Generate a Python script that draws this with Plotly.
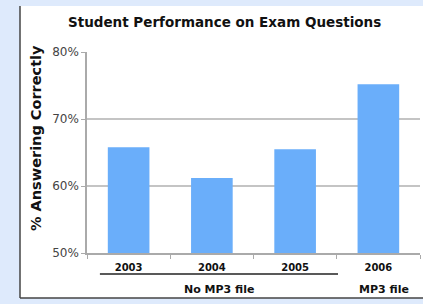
import plotly.graph_objects as go

years = ["2003", "2004", "2005", "2006"]
pct_correct = [65.8, 61.2, 65.5, 75.2]
group_labels = ["No MP3 file", "MP3 file"]
group_centers = [1.09, 3.07]
y_ticks = [50, 60, 70, 80]
y_tick_text = ["50%", "60%", "70%", "80%"]

W, H = 423, 304
L, R, T, B = 87, 3, 52, 51
PW, PH = W - L - R, H - T - B

def px(x):
    return (x - L) / PW

def py(y):
    return (H - B - y) / PH

FONT = "DejaVu Sans"

fig = go.Figure(go.Bar(
    x=years, y=pct_correct, marker=dict(color="#6aaefa", line=dict(width=0)),
    width=0.5,
))

shapes = [
    dict(type="rect", xref="paper", yref="paper", x0=px(20), x1=px(430), y0=py(298), y1=py(6),
         fillcolor="white", line=dict(width=0), layer="below"),
    dict(type="line", xref="paper", yref="paper", x0=px(20), x1=px(20), y0=py(298), y1=py(6),
         line=dict(color="#444", width=1.5)),
    dict(type="line", xref="paper", yref="paper", x0=px(20), x1=px(430), y0=py(298), y1=py(298),
         line=dict(color="#444", width=1.5)),
    dict(type="line", xref="x", yref="paper", x0=-0.345, x1=2.515, y0=py(274), y1=py(274),
         line=dict(color="#222", width=1.5)),
]

annotations = [
    dict(text="<b>Student Performance on Exam Questions</b>", xref="paper", yref="paper",
         x=px(224), y=py(22), showarrow=False, font=dict(family=FONT, size=13.5, color="#111"),
         xanchor="center", yanchor="middle"),
    dict(text="<b>% Answering Correctly</b>", xref="paper", yref="paper",
         x=px(36), y=py(138), showarrow=False, textangle=-90,
         font=dict(family=FONT, size=14.5, color="#111"), xanchor="center", yanchor="middle"),
]
for lab, c in zip(group_labels, group_centers):
    annotations.append(dict(text=f"<b>{lab}</b>", xref="x", yref="paper", x=c, y=py(289),
                            showarrow=False, font=dict(family=FONT, size=11, color="#111"),
                            xanchor="center", yanchor="middle"))

fig.update_layout(
    width=W, height=H,
    margin=dict(l=L, r=R, t=T, b=B, pad=0),
    paper_bgcolor="#deeafc",
    plot_bgcolor="rgba(0,0,0,0)",
    showlegend=False,
    shapes=shapes,
    annotations=annotations,
    xaxis=dict(
        type="category", showgrid=False, showline=True, linecolor="#aaa", linewidth=1.5,
        ticks="outside", tickson="boundaries", ticklen=4, tickcolor="#aaa",
        tickfont=dict(family=FONT, size=10, color="#111", weight="bold"),
        ticklabelstandoff=4,
    ),
    yaxis=dict(
        range=[50, 80], tickmode="array", tickvals=y_ticks, ticktext=y_tick_text, showgrid=True,
        gridcolor="#c4c4c4", gridwidth=1.5, showline=True, linecolor="#aaa", linewidth=1.5,
        ticks="outside", ticklen=4, tickcolor="#aaa", zeroline=False,
        tickfont=dict(family=FONT, size=12, color="#444"),
    ),
)

fig.write_html(
    "out.html",
    config={"displayModeBar": False},
    post_script="document.body.style.margin='0';document.body.style.overflow='hidden';",
)
